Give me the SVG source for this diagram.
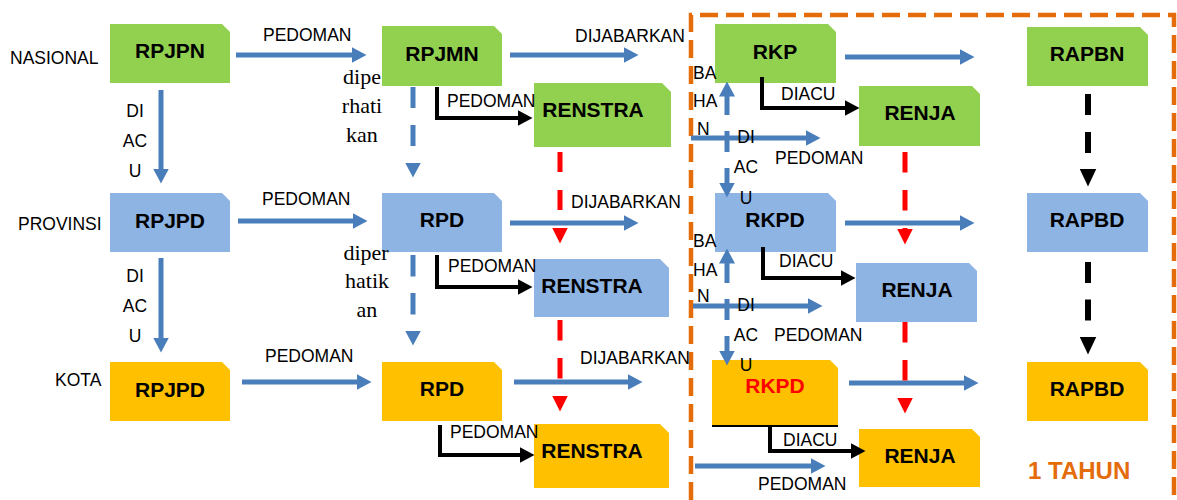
<svg xmlns="http://www.w3.org/2000/svg" width="1177" height="500" viewBox="0 0 1177 500">
<style>
.g{fill:#92D050}.b{fill:#8EB4E3}.o{fill:#FFC000}
.nt{font-family:"Liberation Sans",Arial,sans-serif;font-weight:bold;font-size:21px;fill:#000;text-anchor:middle}
.lb{font-family:"Liberation Sans",Arial,sans-serif;font-size:17.5px;fill:#000}
.lc{font-family:"Liberation Sans",Arial,sans-serif;font-size:17.5px;fill:#000;text-anchor:middle}
.sf{font-family:"Liberation Serif","Times New Roman",serif;font-size:22px;fill:#000;text-anchor:middle}
.ba{stroke:#4A7EBB;stroke-width:5;fill:none;marker-end:url(#mB)}
.bl{stroke:#4A7EBB;stroke-width:5;fill:none}
.rd{stroke:#FF0000;stroke-width:5;fill:none;marker-end:url(#mR)}
.bk{stroke:#000;stroke-width:4;fill:none;marker-end:url(#mK)}
.bd{stroke:#000;stroke-width:6;fill:none;marker-end:url(#mD)}
</style>
<defs>
<marker id="mB" markerUnits="userSpaceOnUse" markerWidth="15" markerHeight="16" refX="0.5" refY="8" orient="auto"><path d="M0,0 L15,8 L0,16 Z" fill="#4A7EBB"/></marker>
<marker id="mR" markerUnits="userSpaceOnUse" markerWidth="16" markerHeight="16" refX="0.5" refY="8" orient="auto"><path d="M0,0 L16,8 L0,16 Z" fill="#FF0000"/></marker>
<marker id="mK" markerUnits="userSpaceOnUse" markerWidth="15" markerHeight="16" refX="0.5" refY="8" orient="auto"><path d="M0,0 L15,8 L0,16 Z" fill="#000"/></marker>
<marker id="mD" markerUnits="userSpaceOnUse" markerWidth="18" markerHeight="17" refX="0.5" refY="8.5" orient="auto"><path d="M0,0 L18,8.5 L0,17 Z" fill="#000"/></marker>
</defs>
<rect width="1177" height="500" fill="#fff"/>

<path id="tahun-box" d="M691,500 V15 H1174 V500" fill="none" stroke="#E46C0A" stroke-width="4.5" stroke-dasharray="18 8"/>

<g id="nodes">
<g id="rpjpn"><path class="g" d="M110,24 H222 L230,32 V83 H110 Z"/><text class="nt" x="170" y="58">RPJPN</text></g>
<g id="rpjmn"><path class="g" d="M382,26 H494 L502,34 V86 H382 Z"/><text class="nt" x="442" y="61">RPJMN</text></g>
<g id="renstra-nas"><path class="g" d="M534,83 H662 L671,92 V147 H534 Z"/><text class="nt" x="593" y="117">RENSTRA</text></g>
<g id="rkp"><path class="g" d="M715,24 H828 L836,32 V83 H715 Z"/><text class="nt" x="775" y="59">RKP</text></g>
<g id="rapbn"><path class="g" d="M1027,27 H1140 L1148,35 V86 H1027 Z"/><text class="nt" x="1087" y="61">RAPBN</text></g>
<g id="renja-nas"><path class="g" d="M859,86 H972 L980,94 V146 H859 Z"/><text class="nt" x="920" y="120">RENJA</text></g>

<g id="rpjpd-prov"><path class="b" d="M110,193 H222 L230,201 V252 H110 Z"/><text class="nt" x="170" y="228">RPJPD</text></g>
<g id="rpd-prov"><path class="b" d="M382,193 H494 L502,201 V252 H382 Z"/><text class="nt" x="442" y="227">RPD</text></g>
<g id="renstra-prov"><path class="b" d="M534,259 H660 L669,268 V317 H534 Z"/><text class="nt" x="592" y="293">RENSTRA</text></g>
<g id="rkpd-prov"><path class="b" d="M715,193 H828 L836,201 V252 H715 Z"/><text class="nt" x="775" y="227">RKPD</text></g>
<g id="rapbd-prov"><path class="b" d="M1027,193 H1140 L1148,201 V252 H1027 Z"/><text class="nt" x="1087" y="227">RAPBD</text></g>
<g id="renja-prov"><path class="b" d="M856,263 H969 L977,271 V322 H856 Z"/><text class="nt" x="917" y="297">RENJA</text></g>

<g id="rpjpd-kota"><path class="o" d="M110,362 H222 L230,370 V421 H110 Z"/><text class="nt" x="170" y="397">RPJPD</text></g>
<g id="rpd-kota"><path class="o" d="M382,362 H494 L502,370 V421 H382 Z"/><text class="nt" x="442" y="396">RPD</text></g>
<g id="renstra-kota"><path class="o" d="M534,424 H660 L669,433 V488 H534 Z"/><text class="nt" x="592" y="458">RENSTRA</text></g>
<g id="rkpd-kota"><path class="o" d="M712,360 H830 L838,368 V425 H712 Z"/><line x1="712" y1="426" x2="838" y2="426" stroke="#000" stroke-width="2"/><text class="nt" x="775" y="393" style="fill:#FF0000">RKPD</text></g>
<g id="rapbd-kota"><path class="o" d="M1027,362 H1140 L1148,370 V421 H1027 Z"/><text class="nt" x="1087" y="396">RAPBD</text></g>
<g id="renja-kota"><path class="o" d="M859,429 H972 L980,437 V487 H859 Z"/><text class="nt" x="920" y="463">RENJA</text></g>
</g>

<g id="connectors">
<line class="ba" x1="236" y1="55" x2="352" y2="55"/>
<line class="ba" x1="510" y1="55" x2="624" y2="55"/>
<line class="ba" x1="845" y1="57" x2="960" y2="57"/>
<line class="ba" x1="238" y1="221" x2="353" y2="221"/>
<line class="ba" x1="510" y1="223" x2="624" y2="223"/>
<line class="ba" x1="845" y1="223" x2="960" y2="223"/>
<line class="ba" x1="242" y1="382" x2="357" y2="382"/>
<line class="ba" x1="514" y1="382" x2="628" y2="382"/>
<line class="ba" x1="849" y1="383" x2="964" y2="383"/>
<line class="ba" x1="691" y1="138" x2="806" y2="138"/>
<line class="ba" x1="693" y1="306" x2="808" y2="306"/>
<line class="ba" x1="695" y1="466" x2="811" y2="466"/>

<line class="ba" x1="161" y1="90" x2="161" y2="169"/>
<line class="ba" x1="161" y1="258" x2="161" y2="338"/>
<line class="ba" x1="413" y1="87" x2="413" y2="163" stroke-dasharray="21 17"/>
<line class="ba" x1="413" y1="255" x2="413" y2="331" stroke-dasharray="21.5 16.5"/>

<line class="ba" x1="727" y1="115" x2="727" y2="96"/>
<line class="bl" x1="727" y1="131" x2="727" y2="152"/>
<line class="ba" x1="727" y1="168" x2="727" y2="183"/>
<line class="ba" x1="727" y1="283" x2="727" y2="263"/>
<line class="bl" x1="727" y1="299" x2="727" y2="320"/>
<line class="ba" x1="727" y1="336" x2="727" y2="351"/>

<line class="rd" x1="560" y1="152" x2="560" y2="228" stroke-dasharray="20 18"/>
<line class="rd" x1="560" y1="320" x2="560" y2="396" stroke-dasharray="20.5 17.5"/>
<line class="rd" x1="905" y1="152" x2="905" y2="229" stroke-dasharray="20.5 17.5"/>
<line class="rd" x1="905" y1="322" x2="905" y2="398" stroke-dasharray="20.5 17.5"/>

<line class="bd" x1="1088" y1="94" x2="1088" y2="169" stroke-dasharray="21 17"/>
<line class="bd" x1="1088" y1="262" x2="1088" y2="337" stroke-dasharray="21 16.5"/>

<path class="bk" d="M437,87 V118 H518"/>
<path class="bk" d="M437,255 V287 H518"/>
<path class="bk" d="M440,425 V455 H520"/>
<path class="bk" d="M762,77 V108 H845"/>
<path class="bk" d="M763,247 V278 H841"/>
<path class="bk" d="M770,426 V451 H851"/>
</g>

<g id="labels">
<text class="lb" x="10" y="64">NASIONAL</text>
<text class="lb" x="18" y="230">PROVINSI</text>
<text class="lb" x="55" y="386">KOTA</text>

<text class="lb" x="263" y="41">PEDOMAN</text>
<text class="lb" x="262" y="205">PEDOMAN</text>
<text class="lb" x="265" y="362">PEDOMAN</text>
<text class="lb" x="575" y="42">DIJABARKAN</text>
<text class="lb" x="571" y="208">DIJABARKAN</text>
<text class="lb" x="580" y="364">DIJABARKAN</text>
<text class="lb" x="447" y="107">PEDOMAN</text>
<text class="lb" x="448" y="272">PEDOMAN</text>
<text class="lb" x="450" y="438">PEDOMAN</text>
<text class="lb" x="781" y="100">DIACU</text>
<text class="lb" x="779" y="267">DIACU</text>
<text class="lb" x="783" y="446">DIACU</text>
<text class="lb" x="775" y="164">PEDOMAN</text>
<text class="lb" x="774" y="341">PEDOMAN</text>
<text class="lb" x="758" y="490">PEDOMAN</text>

<text class="lc" x="135" y="117">DI</text>
<text class="lc" x="135" y="147">AC</text>
<text class="lc" x="135" y="177">U</text>
<text class="lc" x="135" y="282">DI</text>
<text class="lc" x="135" y="312">AC</text>
<text class="lc" x="135" y="342">U</text>

<text class="sf" x="362" y="84">dipe</text>
<text class="sf" x="362" y="113">rhati</text>
<text class="sf" x="362" y="142">kan</text>
<text class="sf" x="366" y="260">diper</text>
<text class="sf" x="367" y="288">hatik</text>
<text class="sf" x="367" y="317">an</text>

<text class="lb" x="693" y="79">BA</text>
<text class="lb" x="693" y="107">HA</text>
<text class="lb" x="697" y="135">N</text>
<text class="lb" x="693" y="247">BA</text>
<text class="lb" x="693" y="276">HA</text>
<text class="lb" x="697" y="302">N</text>

<text class="lc" x="746" y="143">DI</text>
<text class="lc" x="746" y="173">AC</text>
<text class="lc" x="746" y="204">U</text>
<text class="lc" x="746" y="311">DI</text>
<text class="lc" x="746" y="341">AC</text>
<text class="lc" x="746" y="371">U</text>

<text x="1028" y="479" style="font-family:'Liberation Sans',Arial,sans-serif;font-weight:bold;font-size:24px;fill:#E46C0A">1 TAHUN</text>
</g>
</svg>
